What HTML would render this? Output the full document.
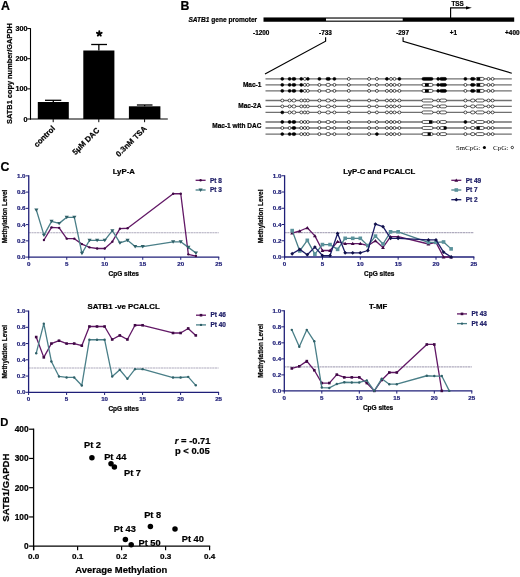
<!DOCTYPE html>
<html><head><meta charset="utf-8"><title>Figure</title>
<style>html,body{margin:0;padding:0;background:#fff;}svg{display:block;will-change:transform;} text{stroke-width:0.22px;}</style>
</head><body>
<svg width="520" height="577" viewBox="0 0 520 577">
<rect width="520" height="577" fill="#fff"/>
<text x="0.90" y="9.60" font-size="12.3" font-weight="bold" text-anchor="start" fill="#000" stroke="#000" font-family='"Liberation Sans", sans-serif' >A</text>
<line x1="30.50" y1="28.20" x2="30.50" y2="119.60" stroke="#000" stroke-width="1.1" />
<line x1="30.00" y1="119.00" x2="167.80" y2="119.00" stroke="#000" stroke-width="1.1" />
<line x1="27.30" y1="119.00" x2="30.50" y2="119.00" stroke="#000" stroke-width="1.0" />
<text x="27.50" y="121.50" font-size="7.2" font-weight="bold" text-anchor="end" fill="#000" stroke="#000" font-family='"Liberation Sans", sans-serif' >0</text>
<line x1="27.30" y1="88.85" x2="30.50" y2="88.85" stroke="#000" stroke-width="1.0" />
<text x="27.50" y="91.35" font-size="7.2" font-weight="bold" text-anchor="end" fill="#000" stroke="#000" font-family='"Liberation Sans", sans-serif' >100</text>
<line x1="27.30" y1="58.70" x2="30.50" y2="58.70" stroke="#000" stroke-width="1.0" />
<text x="27.50" y="61.20" font-size="7.2" font-weight="bold" text-anchor="end" fill="#000" stroke="#000" font-family='"Liberation Sans", sans-serif' >200</text>
<line x1="27.30" y1="28.55" x2="30.50" y2="28.55" stroke="#000" stroke-width="1.0" />
<text x="27.50" y="31.05" font-size="7.2" font-weight="bold" text-anchor="end" fill="#000" stroke="#000" font-family='"Liberation Sans", sans-serif' >300</text>
<rect x="37.80" y="102.00" width="31.00" height="17.00" fill="#000" />
<line x1="53.30" y1="102.00" x2="53.30" y2="100.30" stroke="#000" stroke-width="1.3" />
<line x1="45.00" y1="100.30" x2="61.30" y2="100.30" stroke="#000" stroke-width="1.3" />
<rect x="83.30" y="50.50" width="31.10" height="68.50" fill="#000" />
<line x1="98.85" y1="50.50" x2="98.85" y2="44.50" stroke="#000" stroke-width="1.3" />
<line x1="91.20" y1="44.50" x2="107.00" y2="44.50" stroke="#000" stroke-width="1.3" />
<rect x="128.90" y="106.30" width="31.50" height="12.70" fill="#000" />
<line x1="144.65" y1="106.30" x2="144.65" y2="105.00" stroke="#000" stroke-width="1.3" />
<line x1="136.90" y1="105.00" x2="152.50" y2="105.00" stroke="#000" stroke-width="1.3" />
<line x1="99.30" y1="33.60" x2="99.30" y2="31.10" stroke="#000" stroke-width="1.9" stroke-linecap="round"/>
<line x1="99.30" y1="33.60" x2="101.68" y2="32.83" stroke="#000" stroke-width="1.9" stroke-linecap="round"/>
<line x1="99.30" y1="33.60" x2="100.77" y2="35.62" stroke="#000" stroke-width="1.9" stroke-linecap="round"/>
<line x1="99.30" y1="33.60" x2="97.83" y2="35.62" stroke="#000" stroke-width="1.9" stroke-linecap="round"/>
<line x1="99.30" y1="33.60" x2="96.92" y2="32.83" stroke="#000" stroke-width="1.9" stroke-linecap="round"/>
<line x1="53.20" y1="119.00" x2="53.20" y2="122.20" stroke="#000" stroke-width="1.0" />
<text transform="translate(55.60,129.00) rotate(-45)" font-size="7.8" font-weight="bold" stroke="#000" text-anchor="end" font-family='"Liberation Sans", sans-serif'>control</text>
<line x1="98.80" y1="119.00" x2="98.80" y2="122.20" stroke="#000" stroke-width="1.0" />
<text transform="translate(99.90,130.70) rotate(-45)" font-size="7.8" font-weight="bold" stroke="#000" text-anchor="end" font-family='"Liberation Sans", sans-serif'>5μM DAC</text>
<line x1="144.60" y1="119.00" x2="144.60" y2="122.20" stroke="#000" stroke-width="1.0" />
<text transform="translate(147.20,129.00) rotate(-45)" font-size="7.8" font-weight="bold" stroke="#000" text-anchor="end" font-family='"Liberation Sans", sans-serif'>0.3nM TSA</text>
<text transform="translate(12.2,73.5) rotate(-90)" font-size="7.4" font-weight="bold" stroke="#000" text-anchor="middle" font-family='"Liberation Sans", sans-serif'>SATB1 copy number/GAPDH</text>
<text x="180.40" y="9.60" font-size="12.3" font-weight="bold" text-anchor="start" fill="#000" stroke="#000" font-family='"Liberation Sans", sans-serif' >B</text>
<text x="188.5" y="21.9" font-size="6.55" font-weight="bold" stroke="#000" font-family='"Liberation Sans", sans-serif'><tspan font-style="italic">SATB1</tspan> gene promoter</text>
<rect x="263.50" y="17.45" width="250.70" height="4.30" fill="#000" />
<rect x="326.00" y="18.60" width="76.70" height="2.00" fill="#fff" />
<polyline points="450.6,18 450.6,7.8 467,7.8" fill="none" stroke="#000" stroke-width="1.15"/>
<polygon points="466,6.2 471.8,7.8 466,9.4" fill="#000"/>
<text x="457.60" y="5.90" font-size="6.3" font-weight="bold" text-anchor="middle" fill="#000" stroke="#000" font-family='"Liberation Sans", sans-serif' >TSS</text>
<text x="261.20" y="35.10" font-size="6.4" font-weight="bold" text-anchor="middle" fill="#000" stroke="#000" font-family='"Liberation Sans", sans-serif' >-1200</text>
<text x="325.50" y="35.10" font-size="6.4" font-weight="bold" text-anchor="middle" fill="#000" stroke="#000" font-family='"Liberation Sans", sans-serif' >-733</text>
<text x="402.60" y="35.10" font-size="6.4" font-weight="bold" text-anchor="middle" fill="#000" stroke="#000" font-family='"Liberation Sans", sans-serif' >-297</text>
<text x="453.40" y="35.10" font-size="6.4" font-weight="bold" text-anchor="middle" fill="#000" stroke="#000" font-family='"Liberation Sans", sans-serif' >+1</text>
<text x="512.30" y="35.10" font-size="6.4" font-weight="bold" text-anchor="middle" fill="#000" stroke="#000" font-family='"Liberation Sans", sans-serif' >+400</text>
<polyline points="325.6,37.3 325.6,41.2 265,74" fill="none" stroke="#000" stroke-width="1.15"/>
<polyline points="403.1,37.3 403.1,41.2 511.8,73.2" fill="none" stroke="#000" stroke-width="1.15"/>
<line x1="265.50" y1="78.90" x2="511.80" y2="78.90" stroke="#707070" stroke-width="1.3" />
<line x1="265.50" y1="84.90" x2="511.80" y2="84.90" stroke="#707070" stroke-width="1.3" />
<line x1="265.50" y1="90.90" x2="511.80" y2="90.90" stroke="#707070" stroke-width="1.3" />
<line x1="265.50" y1="100.50" x2="511.80" y2="100.50" stroke="#707070" stroke-width="1.3" />
<line x1="265.50" y1="106.40" x2="511.80" y2="106.40" stroke="#707070" stroke-width="1.3" />
<line x1="265.50" y1="112.40" x2="511.80" y2="112.40" stroke="#707070" stroke-width="1.3" />
<line x1="265.50" y1="122.00" x2="511.80" y2="122.00" stroke="#707070" stroke-width="1.3" />
<line x1="265.50" y1="128.00" x2="511.80" y2="128.00" stroke="#707070" stroke-width="1.3" />
<line x1="265.50" y1="134.10" x2="511.80" y2="134.10" stroke="#707070" stroke-width="1.3" />
<circle cx="282.30" cy="78.90" r="1.45" fill="#000" stroke="#000" stroke-width="0.65"/>
<circle cx="289.60" cy="78.90" r="1.45" fill="#000" stroke="#000" stroke-width="0.65"/>
<rect x="292.00" y="77.45" width="3.80" height="2.90" rx="1.45" ry="1.45" fill="#000" stroke="#000" stroke-width="0.65"/>
<circle cx="301.30" cy="78.90" r="1.45" fill="#000" stroke="#000" stroke-width="0.65"/>
<circle cx="304.80" cy="78.90" r="1.45" fill="#fff" stroke="#000" stroke-width="0.65"/>
<circle cx="307.80" cy="78.90" r="1.45" fill="#000" stroke="#000" stroke-width="0.65"/>
<circle cx="319.40" cy="78.90" r="1.45" fill="#000" stroke="#000" stroke-width="0.65"/>
<rect x="326.00" y="77.45" width="4.30" height="2.90" rx="1.45" ry="1.45" fill="#000" stroke="#000" stroke-width="0.65"/>
<circle cx="334.40" cy="78.90" r="1.45" fill="#000" stroke="#000" stroke-width="0.65"/>
<circle cx="348.80" cy="78.90" r="1.45" fill="#fff" stroke="#000" stroke-width="0.65"/>
<circle cx="369.10" cy="78.90" r="1.45" fill="#fff" stroke="#000" stroke-width="0.65"/>
<circle cx="376.90" cy="78.90" r="1.45" fill="#fff" stroke="#000" stroke-width="0.65"/>
<circle cx="386.90" cy="78.90" r="1.45" fill="#000" stroke="#000" stroke-width="0.65"/>
<circle cx="391.00" cy="78.90" r="1.45" fill="#fff" stroke="#000" stroke-width="0.65"/>
<circle cx="394.50" cy="78.90" r="1.45" fill="#fff" stroke="#000" stroke-width="0.65"/>
<circle cx="399.40" cy="78.90" r="1.45" fill="#000" stroke="#000" stroke-width="0.65"/>
<rect x="422.00" y="77.45" width="11.00" height="2.90" rx="1.45" ry="1.45" fill="#000" stroke="#000" stroke-width="0.65"/>
<circle cx="438.20" cy="78.90" r="1.45" fill="#000" stroke="#000" stroke-width="0.65"/>
<rect x="439.80" y="77.45" width="6.70" height="2.90" rx="1.45" ry="1.45" fill="#000" stroke="#000" stroke-width="0.65"/>
<circle cx="465.40" cy="78.90" r="1.45" fill="#000" stroke="#000" stroke-width="0.65"/>
<rect x="470.60" y="77.45" width="4.30" height="2.90" rx="1.45" ry="1.45" fill="#000" stroke="#000" stroke-width="0.65"/>
<rect x="475.90" y="77.45" width="8.30" height="2.90" rx="1.45" ry="1.45" fill="#fff" stroke="#000" stroke-width="0.65"/>
<rect x="476.80" y="77.45" width="3.40" height="2.90" fill="#000" />
<circle cx="488.50" cy="78.90" r="1.45" fill="#fff" stroke="#000" stroke-width="0.65"/>
<circle cx="492.60" cy="78.90" r="1.45" fill="#fff" stroke="#000" stroke-width="0.65"/>
<circle cx="282.30" cy="84.90" r="1.45" fill="#000" stroke="#000" stroke-width="0.65"/>
<circle cx="289.60" cy="84.90" r="1.45" fill="#000" stroke="#000" stroke-width="0.65"/>
<rect x="292.00" y="83.45" width="3.80" height="2.90" rx="1.45" ry="1.45" fill="#000" stroke="#000" stroke-width="0.65"/>
<circle cx="301.30" cy="84.90" r="1.45" fill="#000" stroke="#000" stroke-width="0.65"/>
<circle cx="304.80" cy="84.90" r="1.45" fill="#fff" stroke="#000" stroke-width="0.65"/>
<circle cx="307.80" cy="84.90" r="1.45" fill="#fff" stroke="#000" stroke-width="0.65"/>
<circle cx="319.40" cy="84.90" r="1.45" fill="#fff" stroke="#000" stroke-width="0.65"/>
<rect x="326.00" y="83.45" width="4.30" height="2.90" rx="1.45" ry="1.45" fill="#fff" stroke="#000" stroke-width="0.65"/>
<circle cx="334.40" cy="84.90" r="1.45" fill="#fff" stroke="#000" stroke-width="0.65"/>
<circle cx="348.80" cy="84.90" r="1.45" fill="#fff" stroke="#000" stroke-width="0.65"/>
<circle cx="369.10" cy="84.90" r="1.45" fill="#fff" stroke="#000" stroke-width="0.65"/>
<circle cx="376.90" cy="84.90" r="1.45" fill="#fff" stroke="#000" stroke-width="0.65"/>
<circle cx="386.90" cy="84.90" r="1.45" fill="#fff" stroke="#000" stroke-width="0.65"/>
<circle cx="391.00" cy="84.90" r="1.45" fill="#fff" stroke="#000" stroke-width="0.65"/>
<circle cx="394.50" cy="84.90" r="1.45" fill="#fff" stroke="#000" stroke-width="0.65"/>
<circle cx="399.40" cy="84.90" r="1.45" fill="#fff" stroke="#000" stroke-width="0.65"/>
<rect x="422.00" y="83.45" width="11.00" height="2.90" rx="1.45" ry="1.45" fill="#fff" stroke="#000" stroke-width="0.65"/>
<rect x="425.00" y="83.45" width="3.80" height="2.90" fill="#000" />
<circle cx="438.20" cy="84.90" r="1.45" fill="#000" stroke="#000" stroke-width="0.65"/>
<rect x="439.80" y="83.45" width="6.70" height="2.90" rx="1.45" ry="1.45" fill="#000" stroke="#000" stroke-width="0.65"/>
<circle cx="465.40" cy="84.90" r="1.45" fill="#fff" stroke="#000" stroke-width="0.65"/>
<rect x="470.60" y="83.45" width="4.30" height="2.90" rx="1.45" ry="1.45" fill="#000" stroke="#000" stroke-width="0.65"/>
<rect x="475.90" y="83.45" width="8.30" height="2.90" rx="1.45" ry="1.45" fill="#fff" stroke="#000" stroke-width="0.65"/>
<rect x="476.80" y="83.45" width="3.40" height="2.90" fill="#000" />
<circle cx="488.50" cy="84.90" r="1.45" fill="#fff" stroke="#000" stroke-width="0.65"/>
<circle cx="492.60" cy="84.90" r="1.45" fill="#fff" stroke="#000" stroke-width="0.65"/>
<circle cx="282.30" cy="90.90" r="1.45" fill="#000" stroke="#000" stroke-width="0.65"/>
<circle cx="289.60" cy="90.90" r="1.45" fill="#000" stroke="#000" stroke-width="0.65"/>
<rect x="292.00" y="89.45" width="3.80" height="2.90" rx="1.45" ry="1.45" fill="#000" stroke="#000" stroke-width="0.65"/>
<circle cx="301.30" cy="90.90" r="1.45" fill="#000" stroke="#000" stroke-width="0.65"/>
<circle cx="304.80" cy="90.90" r="1.45" fill="#fff" stroke="#000" stroke-width="0.65"/>
<circle cx="307.80" cy="90.90" r="1.45" fill="#fff" stroke="#000" stroke-width="0.65"/>
<circle cx="319.40" cy="90.90" r="1.45" fill="#fff" stroke="#000" stroke-width="0.65"/>
<rect x="326.00" y="89.45" width="4.30" height="2.90" rx="1.45" ry="1.45" fill="#fff" stroke="#000" stroke-width="0.65"/>
<circle cx="334.40" cy="90.90" r="1.45" fill="#fff" stroke="#000" stroke-width="0.65"/>
<circle cx="348.80" cy="90.90" r="1.45" fill="#fff" stroke="#000" stroke-width="0.65"/>
<circle cx="369.10" cy="90.90" r="1.45" fill="#fff" stroke="#000" stroke-width="0.65"/>
<circle cx="376.90" cy="90.90" r="1.45" fill="#fff" stroke="#000" stroke-width="0.65"/>
<circle cx="386.90" cy="90.90" r="1.45" fill="#fff" stroke="#000" stroke-width="0.65"/>
<circle cx="391.00" cy="90.90" r="1.45" fill="#fff" stroke="#000" stroke-width="0.65"/>
<circle cx="394.50" cy="90.90" r="1.45" fill="#fff" stroke="#000" stroke-width="0.65"/>
<circle cx="399.40" cy="90.90" r="1.45" fill="#fff" stroke="#000" stroke-width="0.65"/>
<rect x="422.00" y="89.45" width="11.00" height="2.90" rx="1.45" ry="1.45" fill="#fff" stroke="#000" stroke-width="0.65"/>
<rect x="425.00" y="89.45" width="3.80" height="2.90" fill="#000" />
<circle cx="438.20" cy="90.90" r="1.45" fill="#000" stroke="#000" stroke-width="0.65"/>
<rect x="439.80" y="89.45" width="6.70" height="2.90" rx="1.45" ry="1.45" fill="#000" stroke="#000" stroke-width="0.65"/>
<circle cx="465.40" cy="90.90" r="1.45" fill="#fff" stroke="#000" stroke-width="0.65"/>
<rect x="470.60" y="89.45" width="4.30" height="2.90" rx="1.45" ry="1.45" fill="#000" stroke="#000" stroke-width="0.65"/>
<rect x="475.90" y="89.45" width="8.30" height="2.90" rx="1.45" ry="1.45" fill="#fff" stroke="#000" stroke-width="0.65"/>
<rect x="476.80" y="89.45" width="3.40" height="2.90" fill="#000" />
<circle cx="488.50" cy="90.90" r="1.45" fill="#fff" stroke="#000" stroke-width="0.65"/>
<circle cx="492.60" cy="90.90" r="1.45" fill="#fff" stroke="#000" stroke-width="0.65"/>
<circle cx="282.30" cy="100.50" r="1.45" fill="#fff" stroke="#000" stroke-width="0.65"/>
<circle cx="289.60" cy="100.50" r="1.45" fill="#fff" stroke="#000" stroke-width="0.65"/>
<rect x="292.00" y="99.05" width="3.80" height="2.90" rx="1.45" ry="1.45" fill="#fff" stroke="#000" stroke-width="0.65"/>
<circle cx="301.30" cy="100.50" r="1.45" fill="#fff" stroke="#000" stroke-width="0.65"/>
<circle cx="304.80" cy="100.50" r="1.45" fill="#fff" stroke="#000" stroke-width="0.65"/>
<circle cx="307.80" cy="100.50" r="1.45" fill="#fff" stroke="#000" stroke-width="0.65"/>
<circle cx="319.40" cy="100.50" r="1.45" fill="#fff" stroke="#000" stroke-width="0.65"/>
<rect x="326.00" y="99.05" width="4.30" height="2.90" rx="1.45" ry="1.45" fill="#fff" stroke="#000" stroke-width="0.65"/>
<circle cx="334.40" cy="100.50" r="1.45" fill="#fff" stroke="#000" stroke-width="0.65"/>
<circle cx="348.80" cy="100.50" r="1.45" fill="#fff" stroke="#000" stroke-width="0.65"/>
<circle cx="369.10" cy="100.50" r="1.45" fill="#fff" stroke="#000" stroke-width="0.65"/>
<circle cx="376.90" cy="100.50" r="1.45" fill="#fff" stroke="#000" stroke-width="0.65"/>
<circle cx="386.90" cy="100.50" r="1.45" fill="#fff" stroke="#000" stroke-width="0.65"/>
<circle cx="391.00" cy="100.50" r="1.45" fill="#fff" stroke="#000" stroke-width="0.65"/>
<circle cx="394.50" cy="100.50" r="1.45" fill="#fff" stroke="#000" stroke-width="0.65"/>
<circle cx="399.40" cy="100.50" r="1.45" fill="#fff" stroke="#000" stroke-width="0.65"/>
<rect x="422.00" y="99.05" width="11.00" height="2.90" rx="1.45" ry="1.45" fill="#fff" stroke="#000" stroke-width="0.65"/>
<circle cx="438.20" cy="100.50" r="1.45" fill="#fff" stroke="#000" stroke-width="0.65"/>
<rect x="439.80" y="99.05" width="6.70" height="2.90" rx="1.45" ry="1.45" fill="#fff" stroke="#000" stroke-width="0.65"/>
<circle cx="465.40" cy="100.50" r="1.45" fill="#fff" stroke="#000" stroke-width="0.65"/>
<rect x="470.60" y="99.05" width="4.30" height="2.90" rx="1.45" ry="1.45" fill="#fff" stroke="#000" stroke-width="0.65"/>
<rect x="475.90" y="99.05" width="8.30" height="2.90" rx="1.45" ry="1.45" fill="#fff" stroke="#000" stroke-width="0.65"/>
<circle cx="488.50" cy="100.50" r="1.45" fill="#fff" stroke="#000" stroke-width="0.65"/>
<circle cx="492.60" cy="100.50" r="1.45" fill="#fff" stroke="#000" stroke-width="0.65"/>
<circle cx="282.30" cy="106.40" r="1.45" fill="#fff" stroke="#000" stroke-width="0.65"/>
<circle cx="289.60" cy="106.40" r="1.45" fill="#fff" stroke="#000" stroke-width="0.65"/>
<rect x="292.00" y="104.95" width="3.80" height="2.90" rx="1.45" ry="1.45" fill="#fff" stroke="#000" stroke-width="0.65"/>
<circle cx="301.30" cy="106.40" r="1.45" fill="#fff" stroke="#000" stroke-width="0.65"/>
<circle cx="304.80" cy="106.40" r="1.45" fill="#fff" stroke="#000" stroke-width="0.65"/>
<circle cx="307.80" cy="106.40" r="1.45" fill="#fff" stroke="#000" stroke-width="0.65"/>
<circle cx="319.40" cy="106.40" r="1.45" fill="#fff" stroke="#000" stroke-width="0.65"/>
<rect x="326.00" y="104.95" width="4.30" height="2.90" rx="1.45" ry="1.45" fill="#fff" stroke="#000" stroke-width="0.65"/>
<circle cx="334.40" cy="106.40" r="1.45" fill="#fff" stroke="#000" stroke-width="0.65"/>
<circle cx="348.80" cy="106.40" r="1.45" fill="#fff" stroke="#000" stroke-width="0.65"/>
<circle cx="369.10" cy="106.40" r="1.45" fill="#fff" stroke="#000" stroke-width="0.65"/>
<circle cx="376.90" cy="106.40" r="1.45" fill="#fff" stroke="#000" stroke-width="0.65"/>
<circle cx="386.90" cy="106.40" r="1.45" fill="#fff" stroke="#000" stroke-width="0.65"/>
<circle cx="391.00" cy="106.40" r="1.45" fill="#fff" stroke="#000" stroke-width="0.65"/>
<circle cx="394.50" cy="106.40" r="1.45" fill="#fff" stroke="#000" stroke-width="0.65"/>
<circle cx="399.40" cy="106.40" r="1.45" fill="#fff" stroke="#000" stroke-width="0.65"/>
<rect x="422.00" y="104.95" width="11.00" height="2.90" rx="1.45" ry="1.45" fill="#fff" stroke="#000" stroke-width="0.65"/>
<circle cx="438.20" cy="106.40" r="1.45" fill="#fff" stroke="#000" stroke-width="0.65"/>
<rect x="439.80" y="104.95" width="6.70" height="2.90" rx="1.45" ry="1.45" fill="#fff" stroke="#000" stroke-width="0.65"/>
<circle cx="465.40" cy="106.40" r="1.45" fill="#fff" stroke="#000" stroke-width="0.65"/>
<rect x="470.60" y="104.95" width="4.30" height="2.90" rx="1.45" ry="1.45" fill="#fff" stroke="#000" stroke-width="0.65"/>
<rect x="475.90" y="104.95" width="8.30" height="2.90" rx="1.45" ry="1.45" fill="#fff" stroke="#000" stroke-width="0.65"/>
<circle cx="488.50" cy="106.40" r="1.45" fill="#fff" stroke="#000" stroke-width="0.65"/>
<circle cx="492.60" cy="106.40" r="1.45" fill="#fff" stroke="#000" stroke-width="0.65"/>
<circle cx="282.30" cy="112.40" r="1.45" fill="#000" stroke="#000" stroke-width="0.65"/>
<circle cx="289.60" cy="112.40" r="1.45" fill="#fff" stroke="#000" stroke-width="0.65"/>
<rect x="292.00" y="110.95" width="3.80" height="2.90" rx="1.45" ry="1.45" fill="#fff" stroke="#000" stroke-width="0.65"/>
<circle cx="301.30" cy="112.40" r="1.45" fill="#fff" stroke="#000" stroke-width="0.65"/>
<circle cx="304.80" cy="112.40" r="1.45" fill="#fff" stroke="#000" stroke-width="0.65"/>
<circle cx="307.80" cy="112.40" r="1.45" fill="#fff" stroke="#000" stroke-width="0.65"/>
<circle cx="319.40" cy="112.40" r="1.45" fill="#fff" stroke="#000" stroke-width="0.65"/>
<rect x="326.00" y="110.95" width="4.30" height="2.90" rx="1.45" ry="1.45" fill="#fff" stroke="#000" stroke-width="0.65"/>
<circle cx="334.40" cy="112.40" r="1.45" fill="#fff" stroke="#000" stroke-width="0.65"/>
<circle cx="348.80" cy="112.40" r="1.45" fill="#fff" stroke="#000" stroke-width="0.65"/>
<circle cx="369.10" cy="112.40" r="1.45" fill="#fff" stroke="#000" stroke-width="0.65"/>
<circle cx="376.90" cy="112.40" r="1.45" fill="#fff" stroke="#000" stroke-width="0.65"/>
<circle cx="386.90" cy="112.40" r="1.45" fill="#fff" stroke="#000" stroke-width="0.65"/>
<circle cx="391.00" cy="112.40" r="1.45" fill="#fff" stroke="#000" stroke-width="0.65"/>
<circle cx="394.50" cy="112.40" r="1.45" fill="#fff" stroke="#000" stroke-width="0.65"/>
<circle cx="399.40" cy="112.40" r="1.45" fill="#fff" stroke="#000" stroke-width="0.65"/>
<rect x="422.00" y="110.95" width="11.00" height="2.90" rx="1.45" ry="1.45" fill="#fff" stroke="#000" stroke-width="0.65"/>
<circle cx="438.20" cy="112.40" r="1.45" fill="#fff" stroke="#000" stroke-width="0.65"/>
<rect x="439.80" y="110.95" width="6.70" height="2.90" rx="1.45" ry="1.45" fill="#fff" stroke="#000" stroke-width="0.65"/>
<circle cx="465.40" cy="112.40" r="1.45" fill="#fff" stroke="#000" stroke-width="0.65"/>
<rect x="470.60" y="110.95" width="4.30" height="2.90" rx="1.45" ry="1.45" fill="#fff" stroke="#000" stroke-width="0.65"/>
<rect x="475.90" y="110.95" width="8.30" height="2.90" rx="1.45" ry="1.45" fill="#fff" stroke="#000" stroke-width="0.65"/>
<circle cx="488.50" cy="112.40" r="1.45" fill="#fff" stroke="#000" stroke-width="0.65"/>
<circle cx="492.60" cy="112.40" r="1.45" fill="#fff" stroke="#000" stroke-width="0.65"/>
<circle cx="282.30" cy="122.00" r="1.45" fill="#000" stroke="#000" stroke-width="0.65"/>
<circle cx="289.60" cy="122.00" r="1.45" fill="#000" stroke="#000" stroke-width="0.65"/>
<rect x="292.00" y="120.55" width="3.80" height="2.90" rx="1.45" ry="1.45" fill="#000" stroke="#000" stroke-width="0.65"/>
<circle cx="301.30" cy="122.00" r="1.45" fill="#fff" stroke="#000" stroke-width="0.65"/>
<circle cx="304.80" cy="122.00" r="1.45" fill="#fff" stroke="#000" stroke-width="0.65"/>
<circle cx="307.80" cy="122.00" r="1.45" fill="#fff" stroke="#000" stroke-width="0.65"/>
<circle cx="319.40" cy="122.00" r="1.45" fill="#fff" stroke="#000" stroke-width="0.65"/>
<rect x="326.00" y="120.55" width="4.30" height="2.90" rx="1.45" ry="1.45" fill="#fff" stroke="#000" stroke-width="0.65"/>
<circle cx="334.40" cy="122.00" r="1.45" fill="#fff" stroke="#000" stroke-width="0.65"/>
<circle cx="348.80" cy="122.00" r="1.45" fill="#fff" stroke="#000" stroke-width="0.65"/>
<circle cx="369.10" cy="122.00" r="1.45" fill="#fff" stroke="#000" stroke-width="0.65"/>
<circle cx="376.90" cy="122.00" r="1.45" fill="#fff" stroke="#000" stroke-width="0.65"/>
<circle cx="386.90" cy="122.00" r="1.45" fill="#fff" stroke="#000" stroke-width="0.65"/>
<circle cx="391.00" cy="122.00" r="1.45" fill="#fff" stroke="#000" stroke-width="0.65"/>
<circle cx="394.50" cy="122.00" r="1.45" fill="#fff" stroke="#000" stroke-width="0.65"/>
<circle cx="399.40" cy="122.00" r="1.45" fill="#fff" stroke="#000" stroke-width="0.65"/>
<rect x="422.00" y="120.55" width="11.00" height="2.90" rx="1.45" ry="1.45" fill="#fff" stroke="#000" stroke-width="0.65"/>
<rect x="429.00" y="120.55" width="3.20" height="2.90" fill="#000" />
<circle cx="438.20" cy="122.00" r="1.45" fill="#fff" stroke="#000" stroke-width="0.65"/>
<rect x="439.80" y="120.55" width="6.70" height="2.90" rx="1.45" ry="1.45" fill="#fff" stroke="#000" stroke-width="0.65"/>
<circle cx="465.40" cy="122.00" r="1.45" fill="#000" stroke="#000" stroke-width="0.65"/>
<rect x="470.60" y="120.55" width="4.30" height="2.90" rx="1.45" ry="1.45" fill="#fff" stroke="#000" stroke-width="0.65"/>
<rect x="475.90" y="120.55" width="8.30" height="2.90" rx="1.45" ry="1.45" fill="#fff" stroke="#000" stroke-width="0.65"/>
<circle cx="488.50" cy="122.00" r="1.45" fill="#fff" stroke="#000" stroke-width="0.65"/>
<circle cx="492.60" cy="122.00" r="1.45" fill="#fff" stroke="#000" stroke-width="0.65"/>
<circle cx="282.30" cy="128.00" r="1.45" fill="#fff" stroke="#000" stroke-width="0.65"/>
<circle cx="289.60" cy="128.00" r="1.45" fill="#fff" stroke="#000" stroke-width="0.65"/>
<rect x="292.00" y="126.55" width="3.80" height="2.90" rx="1.45" ry="1.45" fill="#000" stroke="#000" stroke-width="0.65"/>
<circle cx="301.30" cy="128.00" r="1.45" fill="#fff" stroke="#000" stroke-width="0.65"/>
<circle cx="304.80" cy="128.00" r="1.45" fill="#fff" stroke="#000" stroke-width="0.65"/>
<circle cx="307.80" cy="128.00" r="1.45" fill="#fff" stroke="#000" stroke-width="0.65"/>
<circle cx="319.40" cy="128.00" r="1.45" fill="#fff" stroke="#000" stroke-width="0.65"/>
<rect x="326.00" y="126.55" width="4.30" height="2.90" rx="1.45" ry="1.45" fill="#fff" stroke="#000" stroke-width="0.65"/>
<circle cx="334.40" cy="128.00" r="1.45" fill="#fff" stroke="#000" stroke-width="0.65"/>
<circle cx="348.80" cy="128.00" r="1.45" fill="#fff" stroke="#000" stroke-width="0.65"/>
<circle cx="369.10" cy="128.00" r="1.45" fill="#fff" stroke="#000" stroke-width="0.65"/>
<circle cx="376.90" cy="128.00" r="1.45" fill="#fff" stroke="#000" stroke-width="0.65"/>
<circle cx="386.90" cy="128.00" r="1.45" fill="#fff" stroke="#000" stroke-width="0.65"/>
<circle cx="391.00" cy="128.00" r="1.45" fill="#fff" stroke="#000" stroke-width="0.65"/>
<circle cx="394.50" cy="128.00" r="1.45" fill="#fff" stroke="#000" stroke-width="0.65"/>
<circle cx="399.40" cy="128.00" r="1.45" fill="#fff" stroke="#000" stroke-width="0.65"/>
<rect x="422.00" y="126.55" width="11.00" height="2.90" rx="1.45" ry="1.45" fill="#fff" stroke="#000" stroke-width="0.65"/>
<circle cx="438.20" cy="128.00" r="1.45" fill="#fff" stroke="#000" stroke-width="0.65"/>
<rect x="439.80" y="126.55" width="6.70" height="2.90" rx="1.45" ry="1.45" fill="#fff" stroke="#000" stroke-width="0.65"/>
<rect x="443.60" y="126.55" width="2.90" height="2.90" fill="#000" />
<circle cx="465.40" cy="128.00" r="1.45" fill="#fff" stroke="#000" stroke-width="0.65"/>
<rect x="470.60" y="126.55" width="4.30" height="2.90" rx="1.45" ry="1.45" fill="#fff" stroke="#000" stroke-width="0.65"/>
<rect x="475.90" y="126.55" width="8.30" height="2.90" rx="1.45" ry="1.45" fill="#fff" stroke="#000" stroke-width="0.65"/>
<rect x="476.60" y="126.55" width="3.20" height="2.90" fill="#000" />
<circle cx="488.50" cy="128.00" r="1.45" fill="#fff" stroke="#000" stroke-width="0.65"/>
<circle cx="492.60" cy="128.00" r="1.45" fill="#fff" stroke="#000" stroke-width="0.65"/>
<circle cx="282.30" cy="134.10" r="1.45" fill="#000" stroke="#000" stroke-width="0.65"/>
<circle cx="289.60" cy="134.10" r="1.45" fill="#000" stroke="#000" stroke-width="0.65"/>
<rect x="292.00" y="132.65" width="3.80" height="2.90" rx="1.45" ry="1.45" fill="#000" stroke="#000" stroke-width="0.65"/>
<circle cx="301.30" cy="134.10" r="1.45" fill="#fff" stroke="#000" stroke-width="0.65"/>
<circle cx="304.80" cy="134.10" r="1.45" fill="#fff" stroke="#000" stroke-width="0.65"/>
<circle cx="307.80" cy="134.10" r="1.45" fill="#fff" stroke="#000" stroke-width="0.65"/>
<circle cx="319.40" cy="134.10" r="1.45" fill="#fff" stroke="#000" stroke-width="0.65"/>
<rect x="326.00" y="132.65" width="4.30" height="2.90" rx="1.45" ry="1.45" fill="#fff" stroke="#000" stroke-width="0.65"/>
<circle cx="334.40" cy="134.10" r="1.45" fill="#fff" stroke="#000" stroke-width="0.65"/>
<circle cx="348.80" cy="134.10" r="1.45" fill="#fff" stroke="#000" stroke-width="0.65"/>
<circle cx="369.10" cy="134.10" r="1.45" fill="#fff" stroke="#000" stroke-width="0.65"/>
<circle cx="376.90" cy="134.10" r="1.45" fill="#000" stroke="#000" stroke-width="0.65"/>
<circle cx="386.90" cy="134.10" r="1.45" fill="#fff" stroke="#000" stroke-width="0.65"/>
<circle cx="391.00" cy="134.10" r="1.45" fill="#fff" stroke="#000" stroke-width="0.65"/>
<circle cx="394.50" cy="134.10" r="1.45" fill="#fff" stroke="#000" stroke-width="0.65"/>
<circle cx="399.40" cy="134.10" r="1.45" fill="#fff" stroke="#000" stroke-width="0.65"/>
<rect x="422.00" y="132.65" width="11.00" height="2.90" rx="1.45" ry="1.45" fill="#fff" stroke="#000" stroke-width="0.65"/>
<rect x="427.60" y="132.65" width="3.20" height="2.90" fill="#000" />
<circle cx="438.20" cy="134.10" r="1.45" fill="#fff" stroke="#000" stroke-width="0.65"/>
<rect x="439.80" y="132.65" width="6.70" height="2.90" rx="1.45" ry="1.45" fill="#fff" stroke="#000" stroke-width="0.65"/>
<circle cx="465.40" cy="134.10" r="1.45" fill="#fff" stroke="#000" stroke-width="0.65"/>
<rect x="470.60" y="132.65" width="4.30" height="2.90" rx="1.45" ry="1.45" fill="#fff" stroke="#000" stroke-width="0.65"/>
<rect x="475.90" y="132.65" width="8.30" height="2.90" rx="1.45" ry="1.45" fill="#fff" stroke="#000" stroke-width="0.65"/>
<circle cx="488.50" cy="134.10" r="1.45" fill="#fff" stroke="#000" stroke-width="0.65"/>
<circle cx="492.60" cy="134.10" r="1.45" fill="#fff" stroke="#000" stroke-width="0.65"/>
<text x="261.40" y="86.50" font-size="6.5" font-weight="bold" text-anchor="end" fill="#000" stroke="#000" font-family='"Liberation Sans", sans-serif' >Mac-1</text>
<text x="261.40" y="107.60" font-size="6.5" font-weight="bold" text-anchor="end" fill="#000" stroke="#000" font-family='"Liberation Sans", sans-serif' >Mac-2A</text>
<text x="261.40" y="128.40" font-size="6.5" font-weight="bold" text-anchor="end" fill="#000" stroke="#000" font-family='"Liberation Sans", sans-serif' >Mac-1 with DAC</text>
<text x="456.00" y="149.80" font-size="7.05" font-weight="normal" text-anchor="start" fill="#000" stroke="none" font-family='"Liberation Serif", serif' >5mCpG:</text>
<circle cx="484.4" cy="147.5" r="1.55" fill="#000"/>
<text x="493.00" y="149.80" font-size="7.05" font-weight="normal" text-anchor="start" fill="#000" stroke="none" font-family='"Liberation Serif", serif' >CpG:</text>
<circle cx="512.3" cy="147.5" r="1.2" fill="#fff" stroke="#000" stroke-width="0.75"/>
<text x="0.60" y="170.70" font-size="12.3" font-weight="bold" text-anchor="start" fill="#000" stroke="#000" font-family='"Liberation Sans", sans-serif' >C</text>
<line x1="28.75" y1="232.73" x2="218.75" y2="232.73" stroke="#aeaabd" stroke-width="1.1" stroke-dasharray="2.2,0.5"/>
<line x1="28.75" y1="175.35" x2="28.75" y2="257.70" stroke="#1f1f78" stroke-width="1.3" />
<line x1="28.15" y1="257.10" x2="219.25" y2="257.10" stroke="#1f1f78" stroke-width="1.3" />
<line x1="25.75" y1="257.10" x2="28.75" y2="257.10" stroke="#1f1f78" stroke-width="1.0" />
<text x="25.55" y="259.10" font-size="6.2" font-weight="bold" text-anchor="end" fill="#1f1f78" stroke="#1f1f78" font-family='"Liberation Sans", sans-serif' >0.0</text>
<line x1="25.75" y1="240.85" x2="28.75" y2="240.85" stroke="#1f1f78" stroke-width="1.0" />
<text x="25.55" y="242.85" font-size="6.2" font-weight="bold" text-anchor="end" fill="#1f1f78" stroke="#1f1f78" font-family='"Liberation Sans", sans-serif' >0.2</text>
<line x1="25.75" y1="224.60" x2="28.75" y2="224.60" stroke="#1f1f78" stroke-width="1.0" />
<text x="25.55" y="226.60" font-size="6.2" font-weight="bold" text-anchor="end" fill="#1f1f78" stroke="#1f1f78" font-family='"Liberation Sans", sans-serif' >0.4</text>
<line x1="25.75" y1="208.35" x2="28.75" y2="208.35" stroke="#1f1f78" stroke-width="1.0" />
<text x="25.55" y="210.35" font-size="6.2" font-weight="bold" text-anchor="end" fill="#1f1f78" stroke="#1f1f78" font-family='"Liberation Sans", sans-serif' >0.6</text>
<line x1="25.75" y1="192.10" x2="28.75" y2="192.10" stroke="#1f1f78" stroke-width="1.0" />
<text x="25.55" y="194.10" font-size="6.2" font-weight="bold" text-anchor="end" fill="#1f1f78" stroke="#1f1f78" font-family='"Liberation Sans", sans-serif' >0.8</text>
<line x1="25.75" y1="175.85" x2="28.75" y2="175.85" stroke="#1f1f78" stroke-width="1.0" />
<text x="25.55" y="177.85" font-size="6.2" font-weight="bold" text-anchor="end" fill="#1f1f78" stroke="#1f1f78" font-family='"Liberation Sans", sans-serif' >1.0</text>
<line x1="28.75" y1="257.10" x2="28.75" y2="259.80" stroke="#1f1f78" stroke-width="1.0" />
<text x="28.75" y="266.10" font-size="6.2" font-weight="bold" text-anchor="middle" fill="#1f1f78" stroke="#1f1f78" font-family='"Liberation Sans", sans-serif' >0</text>
<line x1="66.75" y1="257.10" x2="66.75" y2="259.80" stroke="#1f1f78" stroke-width="1.0" />
<text x="66.75" y="266.10" font-size="6.2" font-weight="bold" text-anchor="middle" fill="#1f1f78" stroke="#1f1f78" font-family='"Liberation Sans", sans-serif' >5</text>
<line x1="104.75" y1="257.10" x2="104.75" y2="259.80" stroke="#1f1f78" stroke-width="1.0" />
<text x="104.75" y="266.10" font-size="6.2" font-weight="bold" text-anchor="middle" fill="#1f1f78" stroke="#1f1f78" font-family='"Liberation Sans", sans-serif' >10</text>
<line x1="142.75" y1="257.10" x2="142.75" y2="259.80" stroke="#1f1f78" stroke-width="1.0" />
<text x="142.75" y="266.10" font-size="6.2" font-weight="bold" text-anchor="middle" fill="#1f1f78" stroke="#1f1f78" font-family='"Liberation Sans", sans-serif' >15</text>
<line x1="180.75" y1="257.10" x2="180.75" y2="259.80" stroke="#1f1f78" stroke-width="1.0" />
<text x="180.75" y="266.10" font-size="6.2" font-weight="bold" text-anchor="middle" fill="#1f1f78" stroke="#1f1f78" font-family='"Liberation Sans", sans-serif' >20</text>
<line x1="218.75" y1="257.10" x2="218.75" y2="259.80" stroke="#1f1f78" stroke-width="1.0" />
<text x="218.75" y="266.10" font-size="6.2" font-weight="bold" text-anchor="middle" fill="#1f1f78" stroke="#1f1f78" font-family='"Liberation Sans", sans-serif' >25</text>
<text x="123.75" y="276.20" font-size="6.5" font-weight="bold" text-anchor="middle" fill="#000" stroke="#000" font-family='"Liberation Sans", sans-serif' >CpG sites</text>
<text x="123.75" y="173.75" font-size="7.8" font-weight="bold" text-anchor="middle" fill="#000" stroke="#000" font-family='"Liberation Sans", sans-serif' >LyP-A</text>
<text transform="translate(7.45,216.48) rotate(-90)" font-size="6.4" font-weight="bold" stroke="#000" text-anchor="middle" font-family='"Liberation Sans", sans-serif'>Methylation Level</text>
<polyline points="43.95,240.04 51.55,227.36 59.15,227.85 66.75,238.66 74.35,238.66 81.95,244.10 89.55,247.35 97.15,248.49 104.75,248.49 112.35,241.66 119.95,228.66 127.55,228.26 173.15,193.73 180.75,193.73 188.35,254.34 195.95,256.04" fill="none" stroke="#621866" stroke-width="1.3" stroke-linejoin="round"/>
<circle cx="43.95" cy="240.04" r="1.2" fill="#3e0844"/>
<circle cx="51.55" cy="227.36" r="1.2" fill="#3e0844"/>
<circle cx="59.15" cy="227.85" r="1.2" fill="#3e0844"/>
<circle cx="66.75" cy="238.66" r="1.2" fill="#3e0844"/>
<circle cx="74.35" cy="238.66" r="1.2" fill="#3e0844"/>
<circle cx="81.95" cy="244.10" r="1.2" fill="#3e0844"/>
<circle cx="89.55" cy="247.35" r="1.2" fill="#3e0844"/>
<circle cx="97.15" cy="248.49" r="1.2" fill="#3e0844"/>
<circle cx="104.75" cy="248.49" r="1.2" fill="#3e0844"/>
<circle cx="112.35" cy="241.66" r="1.2" fill="#3e0844"/>
<circle cx="119.95" cy="228.66" r="1.2" fill="#3e0844"/>
<circle cx="127.55" cy="228.26" r="1.2" fill="#3e0844"/>
<circle cx="173.15" cy="193.73" r="1.2" fill="#3e0844"/>
<circle cx="180.75" cy="193.73" r="1.2" fill="#3e0844"/>
<circle cx="188.35" cy="254.34" r="1.2" fill="#3e0844"/>
<circle cx="195.95" cy="256.04" r="1.2" fill="#3e0844"/>
<line x1="195.60" y1="180.30" x2="205.60" y2="180.30" stroke="#621866" stroke-width="1.3" />
<circle cx="200.60" cy="180.30" r="1.2" fill="#3e0844"/>
<text x="210.00" y="182.50" font-size="6.5" font-weight="bold" text-anchor="start" fill="#1c1c66" stroke="#1c1c66" font-family='"Liberation Sans", sans-serif' >Pt 8</text>
<polyline points="36.35,209.98 43.95,235.16 51.55,221.35 59.15,223.38 66.75,217.29 74.35,217.29 81.95,253.36 89.55,240.28 97.15,240.28 104.75,240.28 112.35,230.69 119.95,242.88 127.55,240.28 135.15,246.54 142.75,246.54 173.15,241.83 180.75,241.83 188.35,247.35 195.95,253.04" fill="none" stroke="#4a7f88" stroke-width="1.3" stroke-linejoin="round"/>
<polygon points="34.25,208.48 38.45,208.48 36.35,211.88" fill="#2f6068"/>
<polygon points="41.85,233.66 46.05,233.66 43.95,237.06" fill="#2f6068"/>
<polygon points="49.45,219.85 53.65,219.85 51.55,223.25" fill="#2f6068"/>
<polygon points="57.05,221.88 61.25,221.88 59.15,225.28" fill="#2f6068"/>
<polygon points="64.65,215.79 68.85,215.79 66.75,219.19" fill="#2f6068"/>
<polygon points="72.25,215.79 76.45,215.79 74.35,219.19" fill="#2f6068"/>
<polygon points="79.85,251.86 84.05,251.86 81.95,255.26" fill="#2f6068"/>
<polygon points="87.45,238.78 91.65,238.78 89.55,242.18" fill="#2f6068"/>
<polygon points="95.05,238.78 99.25,238.78 97.15,242.18" fill="#2f6068"/>
<polygon points="102.65,238.78 106.85,238.78 104.75,242.18" fill="#2f6068"/>
<polygon points="110.25,229.19 114.45,229.19 112.35,232.59" fill="#2f6068"/>
<polygon points="117.85,241.38 122.05,241.38 119.95,244.78" fill="#2f6068"/>
<polygon points="125.45,238.78 129.65,238.78 127.55,242.18" fill="#2f6068"/>
<polygon points="133.05,245.04 137.25,245.04 135.15,248.44" fill="#2f6068"/>
<polygon points="140.65,245.04 144.85,245.04 142.75,248.44" fill="#2f6068"/>
<polygon points="171.05,240.33 175.25,240.33 173.15,243.73" fill="#2f6068"/>
<polygon points="178.65,240.33 182.85,240.33 180.75,243.73" fill="#2f6068"/>
<polygon points="186.25,245.85 190.45,245.85 188.35,249.25" fill="#2f6068"/>
<polygon points="193.85,251.54 198.05,251.54 195.95,254.94" fill="#2f6068"/>
<line x1="195.60" y1="190.00" x2="205.60" y2="190.00" stroke="#4a7f88" stroke-width="1.3" />
<polygon points="198.50,188.50 202.70,188.50 200.60,191.90" fill="#2f6068"/>
<text x="210.00" y="192.20" font-size="6.5" font-weight="bold" text-anchor="start" fill="#1c1c66" stroke="#1c1c66" font-family='"Liberation Sans", sans-serif' >Pt 3</text>
<line x1="284.60" y1="232.62" x2="473.85" y2="232.62" stroke="#aeaabd" stroke-width="1.1" stroke-dasharray="2.2,0.5"/>
<line x1="284.60" y1="175.25" x2="284.60" y2="257.60" stroke="#1f1f78" stroke-width="1.3" />
<line x1="284.00" y1="257.00" x2="474.35" y2="257.00" stroke="#1f1f78" stroke-width="1.3" />
<line x1="281.60" y1="257.00" x2="284.60" y2="257.00" stroke="#1f1f78" stroke-width="1.0" />
<text x="281.40" y="259.00" font-size="6.2" font-weight="bold" text-anchor="end" fill="#1f1f78" stroke="#1f1f78" font-family='"Liberation Sans", sans-serif' >0.0</text>
<line x1="281.60" y1="240.75" x2="284.60" y2="240.75" stroke="#1f1f78" stroke-width="1.0" />
<text x="281.40" y="242.75" font-size="6.2" font-weight="bold" text-anchor="end" fill="#1f1f78" stroke="#1f1f78" font-family='"Liberation Sans", sans-serif' >0.2</text>
<line x1="281.60" y1="224.50" x2="284.60" y2="224.50" stroke="#1f1f78" stroke-width="1.0" />
<text x="281.40" y="226.50" font-size="6.2" font-weight="bold" text-anchor="end" fill="#1f1f78" stroke="#1f1f78" font-family='"Liberation Sans", sans-serif' >0.4</text>
<line x1="281.60" y1="208.25" x2="284.60" y2="208.25" stroke="#1f1f78" stroke-width="1.0" />
<text x="281.40" y="210.25" font-size="6.2" font-weight="bold" text-anchor="end" fill="#1f1f78" stroke="#1f1f78" font-family='"Liberation Sans", sans-serif' >0.6</text>
<line x1="281.60" y1="192.00" x2="284.60" y2="192.00" stroke="#1f1f78" stroke-width="1.0" />
<text x="281.40" y="194.00" font-size="6.2" font-weight="bold" text-anchor="end" fill="#1f1f78" stroke="#1f1f78" font-family='"Liberation Sans", sans-serif' >0.8</text>
<line x1="281.60" y1="175.75" x2="284.60" y2="175.75" stroke="#1f1f78" stroke-width="1.0" />
<text x="281.40" y="177.75" font-size="6.2" font-weight="bold" text-anchor="end" fill="#1f1f78" stroke="#1f1f78" font-family='"Liberation Sans", sans-serif' >1.0</text>
<line x1="284.60" y1="257.00" x2="284.60" y2="259.70" stroke="#1f1f78" stroke-width="1.0" />
<text x="284.60" y="266.00" font-size="6.2" font-weight="bold" text-anchor="middle" fill="#1f1f78" stroke="#1f1f78" font-family='"Liberation Sans", sans-serif' >0</text>
<line x1="322.45" y1="257.00" x2="322.45" y2="259.70" stroke="#1f1f78" stroke-width="1.0" />
<text x="322.45" y="266.00" font-size="6.2" font-weight="bold" text-anchor="middle" fill="#1f1f78" stroke="#1f1f78" font-family='"Liberation Sans", sans-serif' >5</text>
<line x1="360.30" y1="257.00" x2="360.30" y2="259.70" stroke="#1f1f78" stroke-width="1.0" />
<text x="360.30" y="266.00" font-size="6.2" font-weight="bold" text-anchor="middle" fill="#1f1f78" stroke="#1f1f78" font-family='"Liberation Sans", sans-serif' >10</text>
<line x1="398.15" y1="257.00" x2="398.15" y2="259.70" stroke="#1f1f78" stroke-width="1.0" />
<text x="398.15" y="266.00" font-size="6.2" font-weight="bold" text-anchor="middle" fill="#1f1f78" stroke="#1f1f78" font-family='"Liberation Sans", sans-serif' >15</text>
<line x1="436.00" y1="257.00" x2="436.00" y2="259.70" stroke="#1f1f78" stroke-width="1.0" />
<text x="436.00" y="266.00" font-size="6.2" font-weight="bold" text-anchor="middle" fill="#1f1f78" stroke="#1f1f78" font-family='"Liberation Sans", sans-serif' >20</text>
<line x1="473.85" y1="257.00" x2="473.85" y2="259.70" stroke="#1f1f78" stroke-width="1.0" />
<text x="473.85" y="266.00" font-size="6.2" font-weight="bold" text-anchor="middle" fill="#1f1f78" stroke="#1f1f78" font-family='"Liberation Sans", sans-serif' >25</text>
<text x="379.23" y="276.10" font-size="6.5" font-weight="bold" text-anchor="middle" fill="#000" stroke="#000" font-family='"Liberation Sans", sans-serif' >CpG sites</text>
<text x="379.23" y="173.65" font-size="7.8" font-weight="bold" text-anchor="middle" fill="#000" stroke="#000" font-family='"Liberation Sans", sans-serif' >LyP-C and PCALCL</text>
<text transform="translate(263.30,216.38) rotate(-90)" font-size="6.4" font-weight="bold" stroke="#000" text-anchor="middle" font-family='"Liberation Sans", sans-serif'>Methylation Level</text>
<polyline points="292.17,233.03 299.74,231.00 307.31,227.75 314.88,235.88 322.45,250.50 330.02,250.50 337.59,241.56 345.16,243.59 352.73,243.59 360.30,243.59 367.87,245.62 375.44,240.75 383.01,247.49 390.58,236.69 398.15,236.69 428.43,244.00 436.00,242.38 443.57,257.00 451.14,257.00" fill="none" stroke="#621866" stroke-width="1.3" stroke-linejoin="round"/>
<polygon points="290.27,234.43 294.07,234.43 292.17,231.23" fill="#3e0844"/>
<polygon points="297.84,232.40 301.64,232.40 299.74,229.20" fill="#3e0844"/>
<polygon points="305.41,229.15 309.21,229.15 307.31,225.95" fill="#3e0844"/>
<polygon points="312.98,237.28 316.78,237.28 314.88,234.07" fill="#3e0844"/>
<polygon points="320.55,251.90 324.35,251.90 322.45,248.70" fill="#3e0844"/>
<polygon points="328.12,251.90 331.92,251.90 330.02,248.70" fill="#3e0844"/>
<polygon points="335.69,242.96 339.49,242.96 337.59,239.76" fill="#3e0844"/>
<polygon points="343.26,244.99 347.06,244.99 345.16,241.79" fill="#3e0844"/>
<polygon points="350.83,244.99 354.63,244.99 352.73,241.79" fill="#3e0844"/>
<polygon points="358.40,244.99 362.20,244.99 360.30,241.79" fill="#3e0844"/>
<polygon points="365.97,247.03 369.77,247.03 367.87,243.82" fill="#3e0844"/>
<polygon points="373.54,242.15 377.34,242.15 375.44,238.95" fill="#3e0844"/>
<polygon points="381.11,248.89 384.91,248.89 383.01,245.69" fill="#3e0844"/>
<polygon points="388.68,238.09 392.48,238.09 390.58,234.89" fill="#3e0844"/>
<polygon points="396.25,238.09 400.05,238.09 398.15,234.89" fill="#3e0844"/>
<polygon points="426.53,245.40 430.33,245.40 428.43,242.20" fill="#3e0844"/>
<polygon points="434.10,243.78 437.90,243.78 436.00,240.57" fill="#3e0844"/>
<polygon points="441.67,258.40 445.47,258.40 443.57,255.20" fill="#3e0844"/>
<polygon points="449.24,258.40 453.04,258.40 451.14,255.20" fill="#3e0844"/>
<line x1="451.30" y1="180.30" x2="461.30" y2="180.30" stroke="#621866" stroke-width="1.3" />
<polygon points="454.40,181.70 458.20,181.70 456.30,178.50" fill="#3e0844"/>
<text x="465.70" y="182.50" font-size="6.5" font-weight="bold" text-anchor="start" fill="#1c1c66" stroke="#1c1c66" font-family='"Liberation Sans", sans-serif' >Pt 49</text>
<polyline points="292.17,230.59 299.74,250.91 307.31,240.34 314.88,254.16 322.45,244.57 330.02,244.57 337.59,249.36 345.16,238.31 352.73,238.31 360.30,238.31 367.87,245.62 375.44,236.12 383.01,244.00 390.58,231.81 398.15,231.81 428.43,242.38 436.00,242.38 443.57,241.97 451.14,248.88" fill="none" stroke="#4a7f88" stroke-width="1.3" stroke-linejoin="round"/>
<rect x="290.37" y="228.79" width="3.6" height="3.6" fill="#5a929b"/>
<rect x="297.94" y="249.11" width="3.6" height="3.6" fill="#5a929b"/>
<rect x="305.51" y="238.54" width="3.6" height="3.6" fill="#5a929b"/>
<rect x="313.08" y="252.36" width="3.6" height="3.6" fill="#5a929b"/>
<rect x="320.65" y="242.77" width="3.6" height="3.6" fill="#5a929b"/>
<rect x="328.22" y="242.77" width="3.6" height="3.6" fill="#5a929b"/>
<rect x="335.79" y="247.56" width="3.6" height="3.6" fill="#5a929b"/>
<rect x="343.36" y="236.51" width="3.6" height="3.6" fill="#5a929b"/>
<rect x="350.93" y="236.51" width="3.6" height="3.6" fill="#5a929b"/>
<rect x="358.50" y="236.51" width="3.6" height="3.6" fill="#5a929b"/>
<rect x="366.07" y="243.82" width="3.6" height="3.6" fill="#5a929b"/>
<rect x="373.64" y="234.32" width="3.6" height="3.6" fill="#5a929b"/>
<rect x="381.21" y="242.20" width="3.6" height="3.6" fill="#5a929b"/>
<rect x="388.78" y="230.01" width="3.6" height="3.6" fill="#5a929b"/>
<rect x="396.35" y="230.01" width="3.6" height="3.6" fill="#5a929b"/>
<rect x="426.63" y="240.57" width="3.6" height="3.6" fill="#5a929b"/>
<rect x="434.20" y="240.57" width="3.6" height="3.6" fill="#5a929b"/>
<rect x="441.77" y="240.17" width="3.6" height="3.6" fill="#5a929b"/>
<rect x="449.34" y="247.07" width="3.6" height="3.6" fill="#5a929b"/>
<line x1="451.30" y1="190.00" x2="461.30" y2="190.00" stroke="#4a7f88" stroke-width="1.3" />
<rect x="454.50" y="188.20" width="3.6" height="3.6" fill="#5a929b"/>
<text x="465.70" y="192.20" font-size="6.5" font-weight="bold" text-anchor="start" fill="#1c1c66" stroke="#1c1c66" font-family='"Liberation Sans", sans-serif' >Pt 7</text>
<polyline points="292.17,253.75 299.74,249.36 307.31,254.72 314.88,247.09 322.45,255.54 330.02,255.54 337.59,233.44 345.16,252.78 352.73,252.78 360.30,252.78 367.87,250.50 375.44,224.09 383.01,226.69 390.58,238.31 398.15,238.31 428.43,239.94 436.00,239.94 443.57,252.12 451.14,257.00" fill="none" stroke="#1c1c66" stroke-width="1.3" stroke-linejoin="round"/>
<polygon points="290.27,253.75 292.17,251.85 294.07,253.75 292.17,255.65" fill="#10104a"/>
<polygon points="297.84,249.36 299.74,247.46 301.64,249.36 299.74,251.26" fill="#10104a"/>
<polygon points="305.41,254.72 307.31,252.82 309.21,254.72 307.31,256.62" fill="#10104a"/>
<polygon points="312.98,247.09 314.88,245.19 316.78,247.09 314.88,248.99" fill="#10104a"/>
<polygon points="320.55,255.54 322.45,253.64 324.35,255.54 322.45,257.44" fill="#10104a"/>
<polygon points="328.12,255.54 330.02,253.64 331.92,255.54 330.02,257.44" fill="#10104a"/>
<polygon points="335.69,233.44 337.59,231.54 339.49,233.44 337.59,235.34" fill="#10104a"/>
<polygon points="343.26,252.78 345.16,250.88 347.06,252.78 345.16,254.68" fill="#10104a"/>
<polygon points="350.83,252.78 352.73,250.88 354.63,252.78 352.73,254.68" fill="#10104a"/>
<polygon points="358.40,252.78 360.30,250.88 362.20,252.78 360.30,254.68" fill="#10104a"/>
<polygon points="365.97,250.50 367.87,248.60 369.77,250.50 367.87,252.40" fill="#10104a"/>
<polygon points="373.54,224.09 375.44,222.19 377.34,224.09 375.44,225.99" fill="#10104a"/>
<polygon points="381.11,226.69 383.01,224.79 384.91,226.69 383.01,228.59" fill="#10104a"/>
<polygon points="388.68,238.31 390.58,236.41 392.48,238.31 390.58,240.21" fill="#10104a"/>
<polygon points="396.25,238.31 398.15,236.41 400.05,238.31 398.15,240.21" fill="#10104a"/>
<polygon points="426.53,239.94 428.43,238.04 430.33,239.94 428.43,241.84" fill="#10104a"/>
<polygon points="434.10,239.94 436.00,238.04 437.90,239.94 436.00,241.84" fill="#10104a"/>
<polygon points="441.67,252.12 443.57,250.22 445.47,252.12 443.57,254.03" fill="#10104a"/>
<polygon points="449.24,257.00 451.14,255.10 453.04,257.00 451.14,258.90" fill="#10104a"/>
<line x1="451.30" y1="199.70" x2="461.30" y2="199.70" stroke="#1c1c66" stroke-width="1.3" />
<polygon points="454.40,199.70 456.30,197.80 458.20,199.70 456.30,201.60" fill="#10104a"/>
<text x="465.70" y="201.90" font-size="6.5" font-weight="bold" text-anchor="start" fill="#1c1c66" stroke="#1c1c66" font-family='"Liberation Sans", sans-serif' >Pt 2</text>
<line x1="28.60" y1="367.93" x2="218.60" y2="367.93" stroke="#aeaabd" stroke-width="1.1" stroke-dasharray="2.2,0.5"/>
<line x1="28.60" y1="310.55" x2="28.60" y2="392.90" stroke="#1f1f78" stroke-width="1.3" />
<line x1="28.00" y1="392.30" x2="219.10" y2="392.30" stroke="#1f1f78" stroke-width="1.3" />
<line x1="25.60" y1="392.30" x2="28.60" y2="392.30" stroke="#1f1f78" stroke-width="1.0" />
<text x="25.40" y="394.30" font-size="6.2" font-weight="bold" text-anchor="end" fill="#1f1f78" stroke="#1f1f78" font-family='"Liberation Sans", sans-serif' >0.0</text>
<line x1="25.60" y1="376.05" x2="28.60" y2="376.05" stroke="#1f1f78" stroke-width="1.0" />
<text x="25.40" y="378.05" font-size="6.2" font-weight="bold" text-anchor="end" fill="#1f1f78" stroke="#1f1f78" font-family='"Liberation Sans", sans-serif' >0.2</text>
<line x1="25.60" y1="359.80" x2="28.60" y2="359.80" stroke="#1f1f78" stroke-width="1.0" />
<text x="25.40" y="361.80" font-size="6.2" font-weight="bold" text-anchor="end" fill="#1f1f78" stroke="#1f1f78" font-family='"Liberation Sans", sans-serif' >0.4</text>
<line x1="25.60" y1="343.55" x2="28.60" y2="343.55" stroke="#1f1f78" stroke-width="1.0" />
<text x="25.40" y="345.55" font-size="6.2" font-weight="bold" text-anchor="end" fill="#1f1f78" stroke="#1f1f78" font-family='"Liberation Sans", sans-serif' >0.6</text>
<line x1="25.60" y1="327.30" x2="28.60" y2="327.30" stroke="#1f1f78" stroke-width="1.0" />
<text x="25.40" y="329.30" font-size="6.2" font-weight="bold" text-anchor="end" fill="#1f1f78" stroke="#1f1f78" font-family='"Liberation Sans", sans-serif' >0.8</text>
<line x1="25.60" y1="311.05" x2="28.60" y2="311.05" stroke="#1f1f78" stroke-width="1.0" />
<text x="25.40" y="313.05" font-size="6.2" font-weight="bold" text-anchor="end" fill="#1f1f78" stroke="#1f1f78" font-family='"Liberation Sans", sans-serif' >1.0</text>
<line x1="28.60" y1="392.30" x2="28.60" y2="395.00" stroke="#1f1f78" stroke-width="1.0" />
<text x="28.60" y="401.30" font-size="6.2" font-weight="bold" text-anchor="middle" fill="#1f1f78" stroke="#1f1f78" font-family='"Liberation Sans", sans-serif' >0</text>
<line x1="66.60" y1="392.30" x2="66.60" y2="395.00" stroke="#1f1f78" stroke-width="1.0" />
<text x="66.60" y="401.30" font-size="6.2" font-weight="bold" text-anchor="middle" fill="#1f1f78" stroke="#1f1f78" font-family='"Liberation Sans", sans-serif' >5</text>
<line x1="104.60" y1="392.30" x2="104.60" y2="395.00" stroke="#1f1f78" stroke-width="1.0" />
<text x="104.60" y="401.30" font-size="6.2" font-weight="bold" text-anchor="middle" fill="#1f1f78" stroke="#1f1f78" font-family='"Liberation Sans", sans-serif' >10</text>
<line x1="142.60" y1="392.30" x2="142.60" y2="395.00" stroke="#1f1f78" stroke-width="1.0" />
<text x="142.60" y="401.30" font-size="6.2" font-weight="bold" text-anchor="middle" fill="#1f1f78" stroke="#1f1f78" font-family='"Liberation Sans", sans-serif' >15</text>
<line x1="180.60" y1="392.30" x2="180.60" y2="395.00" stroke="#1f1f78" stroke-width="1.0" />
<text x="180.60" y="401.30" font-size="6.2" font-weight="bold" text-anchor="middle" fill="#1f1f78" stroke="#1f1f78" font-family='"Liberation Sans", sans-serif' >20</text>
<line x1="218.60" y1="392.30" x2="218.60" y2="395.00" stroke="#1f1f78" stroke-width="1.0" />
<text x="218.60" y="401.30" font-size="6.2" font-weight="bold" text-anchor="middle" fill="#1f1f78" stroke="#1f1f78" font-family='"Liberation Sans", sans-serif' >25</text>
<text x="123.60" y="411.40" font-size="6.5" font-weight="bold" text-anchor="middle" fill="#000" stroke="#000" font-family='"Liberation Sans", sans-serif' >CpG sites</text>
<text x="123.60" y="308.95" font-size="7.8" font-weight="bold" text-anchor="middle" fill="#000" stroke="#000" font-family='"Liberation Sans", sans-serif' >SATB1 -ve PCALCL</text>
<text transform="translate(7.30,351.68) rotate(-90)" font-size="6.4" font-weight="bold" stroke="#000" text-anchor="middle" font-family='"Liberation Sans", sans-serif'>Methylation Level</text>
<polyline points="36.20,337.05 43.80,357.36 51.40,343.55 59.00,340.71 66.60,343.55 74.20,343.55 81.80,345.66 89.40,326.49 97.00,326.49 104.60,326.49 112.20,339.49 119.80,335.43 127.40,339.49 135.00,325.27 142.60,325.27 173.00,332.99 180.60,332.99 188.20,328.44 195.80,335.43" fill="none" stroke="#621866" stroke-width="1.3" stroke-linejoin="round"/>
<rect x="34.90" y="335.75" width="2.6" height="2.6" fill="#3e0844"/>
<rect x="42.50" y="356.06" width="2.6" height="2.6" fill="#3e0844"/>
<rect x="50.10" y="342.25" width="2.6" height="2.6" fill="#3e0844"/>
<rect x="57.70" y="339.41" width="2.6" height="2.6" fill="#3e0844"/>
<rect x="65.30" y="342.25" width="2.6" height="2.6" fill="#3e0844"/>
<rect x="72.90" y="342.25" width="2.6" height="2.6" fill="#3e0844"/>
<rect x="80.50" y="344.36" width="2.6" height="2.6" fill="#3e0844"/>
<rect x="88.10" y="325.19" width="2.6" height="2.6" fill="#3e0844"/>
<rect x="95.70" y="325.19" width="2.6" height="2.6" fill="#3e0844"/>
<rect x="103.30" y="325.19" width="2.6" height="2.6" fill="#3e0844"/>
<rect x="110.90" y="338.19" width="2.6" height="2.6" fill="#3e0844"/>
<rect x="118.50" y="334.12" width="2.6" height="2.6" fill="#3e0844"/>
<rect x="126.10" y="338.19" width="2.6" height="2.6" fill="#3e0844"/>
<rect x="133.70" y="323.97" width="2.6" height="2.6" fill="#3e0844"/>
<rect x="141.30" y="323.97" width="2.6" height="2.6" fill="#3e0844"/>
<rect x="171.70" y="331.69" width="2.6" height="2.6" fill="#3e0844"/>
<rect x="179.30" y="331.69" width="2.6" height="2.6" fill="#3e0844"/>
<rect x="186.90" y="327.14" width="2.6" height="2.6" fill="#3e0844"/>
<rect x="194.50" y="334.12" width="2.6" height="2.6" fill="#3e0844"/>
<line x1="196.00" y1="315.20" x2="206.00" y2="315.20" stroke="#621866" stroke-width="1.3" />
<rect x="199.70" y="313.90" width="2.6" height="2.6" fill="#3e0844"/>
<text x="210.40" y="317.40" font-size="6.5" font-weight="bold" text-anchor="start" fill="#1c1c66" stroke="#1c1c66" font-family='"Liberation Sans", sans-serif' >Pt 46</text>
<polyline points="36.20,353.30 43.80,323.64 51.40,361.43 59.00,376.46 66.60,377.43 74.20,377.43 81.80,385.48 89.40,339.73 97.00,339.73 104.60,339.73 112.20,376.46 119.80,369.71 127.40,378.81 135.00,369.14 142.60,369.14 173.00,377.51 180.60,377.51 188.20,376.86 195.80,385.31" fill="none" stroke="#4a7f88" stroke-width="1.3" stroke-linejoin="round"/>
<circle cx="36.20" cy="353.30" r="1.2" fill="#2f6068"/>
<circle cx="43.80" cy="323.64" r="1.2" fill="#2f6068"/>
<circle cx="51.40" cy="361.43" r="1.2" fill="#2f6068"/>
<circle cx="59.00" cy="376.46" r="1.2" fill="#2f6068"/>
<circle cx="66.60" cy="377.43" r="1.2" fill="#2f6068"/>
<circle cx="74.20" cy="377.43" r="1.2" fill="#2f6068"/>
<circle cx="81.80" cy="385.48" r="1.2" fill="#2f6068"/>
<circle cx="89.40" cy="339.73" r="1.2" fill="#2f6068"/>
<circle cx="97.00" cy="339.73" r="1.2" fill="#2f6068"/>
<circle cx="104.60" cy="339.73" r="1.2" fill="#2f6068"/>
<circle cx="112.20" cy="376.46" r="1.2" fill="#2f6068"/>
<circle cx="119.80" cy="369.71" r="1.2" fill="#2f6068"/>
<circle cx="127.40" cy="378.81" r="1.2" fill="#2f6068"/>
<circle cx="135.00" cy="369.14" r="1.2" fill="#2f6068"/>
<circle cx="142.60" cy="369.14" r="1.2" fill="#2f6068"/>
<circle cx="173.00" cy="377.51" r="1.2" fill="#2f6068"/>
<circle cx="180.60" cy="377.51" r="1.2" fill="#2f6068"/>
<circle cx="188.20" cy="376.86" r="1.2" fill="#2f6068"/>
<circle cx="195.80" cy="385.31" r="1.2" fill="#2f6068"/>
<line x1="196.00" y1="324.90" x2="206.00" y2="324.90" stroke="#4a7f88" stroke-width="1.3" />
<circle cx="201.00" cy="324.90" r="1.2" fill="#2f6068"/>
<text x="210.40" y="327.10" font-size="6.5" font-weight="bold" text-anchor="start" fill="#1c1c66" stroke="#1c1c66" font-family='"Liberation Sans", sans-serif' >Pt 40</text>
<line x1="284.30" y1="366.87" x2="471.80" y2="366.87" stroke="#aeaabd" stroke-width="1.1" stroke-dasharray="2.2,0.5"/>
<line x1="284.30" y1="310.30" x2="284.30" y2="391.50" stroke="#1f1f78" stroke-width="1.3" />
<line x1="283.70" y1="390.90" x2="472.30" y2="390.90" stroke="#1f1f78" stroke-width="1.3" />
<line x1="281.30" y1="390.90" x2="284.30" y2="390.90" stroke="#1f1f78" stroke-width="1.0" />
<text x="281.10" y="392.90" font-size="6.2" font-weight="bold" text-anchor="end" fill="#1f1f78" stroke="#1f1f78" font-family='"Liberation Sans", sans-serif' >0.0</text>
<line x1="281.30" y1="374.88" x2="284.30" y2="374.88" stroke="#1f1f78" stroke-width="1.0" />
<text x="281.10" y="376.88" font-size="6.2" font-weight="bold" text-anchor="end" fill="#1f1f78" stroke="#1f1f78" font-family='"Liberation Sans", sans-serif' >0.2</text>
<line x1="281.30" y1="358.86" x2="284.30" y2="358.86" stroke="#1f1f78" stroke-width="1.0" />
<text x="281.10" y="360.86" font-size="6.2" font-weight="bold" text-anchor="end" fill="#1f1f78" stroke="#1f1f78" font-family='"Liberation Sans", sans-serif' >0.4</text>
<line x1="281.30" y1="342.84" x2="284.30" y2="342.84" stroke="#1f1f78" stroke-width="1.0" />
<text x="281.10" y="344.84" font-size="6.2" font-weight="bold" text-anchor="end" fill="#1f1f78" stroke="#1f1f78" font-family='"Liberation Sans", sans-serif' >0.6</text>
<line x1="281.30" y1="326.82" x2="284.30" y2="326.82" stroke="#1f1f78" stroke-width="1.0" />
<text x="281.10" y="328.82" font-size="6.2" font-weight="bold" text-anchor="end" fill="#1f1f78" stroke="#1f1f78" font-family='"Liberation Sans", sans-serif' >0.8</text>
<line x1="281.30" y1="310.80" x2="284.30" y2="310.80" stroke="#1f1f78" stroke-width="1.0" />
<text x="281.10" y="312.80" font-size="6.2" font-weight="bold" text-anchor="end" fill="#1f1f78" stroke="#1f1f78" font-family='"Liberation Sans", sans-serif' >1.0</text>
<line x1="284.30" y1="390.90" x2="284.30" y2="393.60" stroke="#1f1f78" stroke-width="1.0" />
<text x="284.30" y="399.90" font-size="6.2" font-weight="bold" text-anchor="middle" fill="#1f1f78" stroke="#1f1f78" font-family='"Liberation Sans", sans-serif' >0</text>
<line x1="321.80" y1="390.90" x2="321.80" y2="393.60" stroke="#1f1f78" stroke-width="1.0" />
<text x="321.80" y="399.90" font-size="6.2" font-weight="bold" text-anchor="middle" fill="#1f1f78" stroke="#1f1f78" font-family='"Liberation Sans", sans-serif' >5</text>
<line x1="359.30" y1="390.90" x2="359.30" y2="393.60" stroke="#1f1f78" stroke-width="1.0" />
<text x="359.30" y="399.90" font-size="6.2" font-weight="bold" text-anchor="middle" fill="#1f1f78" stroke="#1f1f78" font-family='"Liberation Sans", sans-serif' >10</text>
<line x1="396.80" y1="390.90" x2="396.80" y2="393.60" stroke="#1f1f78" stroke-width="1.0" />
<text x="396.80" y="399.90" font-size="6.2" font-weight="bold" text-anchor="middle" fill="#1f1f78" stroke="#1f1f78" font-family='"Liberation Sans", sans-serif' >15</text>
<line x1="434.30" y1="390.90" x2="434.30" y2="393.60" stroke="#1f1f78" stroke-width="1.0" />
<text x="434.30" y="399.90" font-size="6.2" font-weight="bold" text-anchor="middle" fill="#1f1f78" stroke="#1f1f78" font-family='"Liberation Sans", sans-serif' >20</text>
<line x1="471.80" y1="390.90" x2="471.80" y2="393.60" stroke="#1f1f78" stroke-width="1.0" />
<text x="471.80" y="399.90" font-size="6.2" font-weight="bold" text-anchor="middle" fill="#1f1f78" stroke="#1f1f78" font-family='"Liberation Sans", sans-serif' >25</text>
<text x="378.05" y="410.00" font-size="6.5" font-weight="bold" text-anchor="middle" fill="#000" stroke="#000" font-family='"Liberation Sans", sans-serif' >CpG sites</text>
<text x="378.05" y="308.70" font-size="7.8" font-weight="bold" text-anchor="middle" fill="#000" stroke="#000" font-family='"Liberation Sans", sans-serif' >T-MF</text>
<text transform="translate(263.00,350.85) rotate(-90)" font-size="6.4" font-weight="bold" stroke="#000" text-anchor="middle" font-family='"Liberation Sans", sans-serif'>Methylation Level</text>
<polyline points="291.80,368.44 299.30,366.32 306.80,361.12 314.30,370.23 321.80,383.06 329.30,383.06 336.80,374.61 344.30,377.38 351.80,377.38 359.30,377.38 366.80,383.06 374.30,390.90 381.80,379.98 389.30,372.50 396.80,372.50 426.80,344.47 434.30,344.47 441.80,390.90" fill="none" stroke="#621866" stroke-width="1.3" stroke-linejoin="round"/>
<rect x="290.50" y="367.14" width="2.6" height="2.6" fill="#3e0844"/>
<rect x="298.00" y="365.02" width="2.6" height="2.6" fill="#3e0844"/>
<rect x="305.50" y="359.82" width="2.6" height="2.6" fill="#3e0844"/>
<rect x="313.00" y="368.93" width="2.6" height="2.6" fill="#3e0844"/>
<rect x="320.50" y="381.76" width="2.6" height="2.6" fill="#3e0844"/>
<rect x="328.00" y="381.76" width="2.6" height="2.6" fill="#3e0844"/>
<rect x="335.50" y="373.31" width="2.6" height="2.6" fill="#3e0844"/>
<rect x="343.00" y="376.07" width="2.6" height="2.6" fill="#3e0844"/>
<rect x="350.50" y="376.07" width="2.6" height="2.6" fill="#3e0844"/>
<rect x="358.00" y="376.07" width="2.6" height="2.6" fill="#3e0844"/>
<rect x="365.50" y="381.76" width="2.6" height="2.6" fill="#3e0844"/>
<rect x="373.00" y="389.60" width="2.6" height="2.6" fill="#3e0844"/>
<rect x="380.50" y="378.68" width="2.6" height="2.6" fill="#3e0844"/>
<rect x="388.00" y="371.20" width="2.6" height="2.6" fill="#3e0844"/>
<rect x="395.50" y="371.20" width="2.6" height="2.6" fill="#3e0844"/>
<rect x="425.50" y="343.17" width="2.6" height="2.6" fill="#3e0844"/>
<rect x="433.00" y="343.17" width="2.6" height="2.6" fill="#3e0844"/>
<rect x="440.50" y="389.60" width="2.6" height="2.6" fill="#3e0844"/>
<line x1="457.00" y1="313.90" x2="467.00" y2="313.90" stroke="#621866" stroke-width="1.3" />
<rect x="460.70" y="312.60" width="2.6" height="2.6" fill="#3e0844"/>
<text x="471.40" y="316.10" font-size="6.5" font-weight="bold" text-anchor="start" fill="#1c1c66" stroke="#1c1c66" font-family='"Liberation Sans", sans-serif' >Pt 43</text>
<polyline points="291.80,329.84 299.30,346.74 306.80,329.84 314.30,341.30 321.80,387.53 329.30,387.94 336.80,384.04 344.30,382.25 351.80,382.49 359.30,382.49 366.80,380.38 374.30,390.90 381.80,378.68 389.30,384.20 396.80,384.20 426.80,375.75 434.30,376.07 441.80,376.07 449.30,390.90" fill="none" stroke="#4a7f88" stroke-width="1.3" stroke-linejoin="round"/>
<circle cx="291.80" cy="329.84" r="1.2" fill="#2f6068"/>
<circle cx="299.30" cy="346.74" r="1.2" fill="#2f6068"/>
<circle cx="306.80" cy="329.84" r="1.2" fill="#2f6068"/>
<circle cx="314.30" cy="341.30" r="1.2" fill="#2f6068"/>
<circle cx="321.80" cy="387.53" r="1.2" fill="#2f6068"/>
<circle cx="329.30" cy="387.94" r="1.2" fill="#2f6068"/>
<circle cx="336.80" cy="384.04" r="1.2" fill="#2f6068"/>
<circle cx="344.30" cy="382.25" r="1.2" fill="#2f6068"/>
<circle cx="351.80" cy="382.49" r="1.2" fill="#2f6068"/>
<circle cx="359.30" cy="382.49" r="1.2" fill="#2f6068"/>
<circle cx="366.80" cy="380.38" r="1.2" fill="#2f6068"/>
<circle cx="374.30" cy="390.90" r="1.2" fill="#2f6068"/>
<circle cx="381.80" cy="378.68" r="1.2" fill="#2f6068"/>
<circle cx="389.30" cy="384.20" r="1.2" fill="#2f6068"/>
<circle cx="396.80" cy="384.20" r="1.2" fill="#2f6068"/>
<circle cx="426.80" cy="375.75" r="1.2" fill="#2f6068"/>
<circle cx="434.30" cy="376.07" r="1.2" fill="#2f6068"/>
<circle cx="441.80" cy="376.07" r="1.2" fill="#2f6068"/>
<circle cx="449.30" cy="390.90" r="1.2" fill="#2f6068"/>
<line x1="457.00" y1="323.60" x2="467.00" y2="323.60" stroke="#4a7f88" stroke-width="1.3" />
<circle cx="462.00" cy="323.60" r="1.2" fill="#2f6068"/>
<text x="471.40" y="325.80" font-size="6.5" font-weight="bold" text-anchor="start" fill="#1c1c66" stroke="#1c1c66" font-family='"Liberation Sans", sans-serif' >Pt 44</text>
<text x="0.30" y="425.90" font-size="11.2" font-weight="bold" text-anchor="start" fill="#000" stroke="#000" font-family='"Liberation Sans", sans-serif' >D</text>
<line x1="33.60" y1="428.60" x2="33.60" y2="550.20" stroke="#000" stroke-width="1.3" />
<line x1="29.10" y1="546.20" x2="210.20" y2="546.20" stroke="#000" stroke-width="1.3" />
<line x1="29.10" y1="516.95" x2="33.60" y2="516.95" stroke="#000" stroke-width="1.2" />
<line x1="29.10" y1="487.70" x2="33.60" y2="487.70" stroke="#000" stroke-width="1.2" />
<line x1="29.10" y1="458.45" x2="33.60" y2="458.45" stroke="#000" stroke-width="1.2" />
<line x1="29.10" y1="429.20" x2="33.60" y2="429.20" stroke="#000" stroke-width="1.2" />
<text x="28.60" y="549.20" font-size="8.3" font-weight="bold" text-anchor="end" fill="#000" stroke="#000" font-family='"Liberation Sans", sans-serif' >0</text>
<text x="28.60" y="519.95" font-size="8.3" font-weight="bold" text-anchor="end" fill="#000" stroke="#000" font-family='"Liberation Sans", sans-serif' >100</text>
<text x="28.60" y="490.70" font-size="8.3" font-weight="bold" text-anchor="end" fill="#000" stroke="#000" font-family='"Liberation Sans", sans-serif' >200</text>
<text x="28.60" y="461.45" font-size="8.3" font-weight="bold" text-anchor="end" fill="#000" stroke="#000" font-family='"Liberation Sans", sans-serif' >300</text>
<text x="28.60" y="432.20" font-size="8.3" font-weight="bold" text-anchor="end" fill="#000" stroke="#000" font-family='"Liberation Sans", sans-serif' >400</text>
<line x1="33.60" y1="546.20" x2="33.60" y2="550.20" stroke="#000" stroke-width="1.2" />
<text x="33.60" y="558.80" font-size="8.1" font-weight="bold" text-anchor="middle" fill="#000" stroke="#000" font-family='"Liberation Sans", sans-serif' >0.0</text>
<line x1="77.60" y1="546.20" x2="77.60" y2="550.20" stroke="#000" stroke-width="1.2" />
<text x="77.60" y="558.80" font-size="8.1" font-weight="bold" text-anchor="middle" fill="#000" stroke="#000" font-family='"Liberation Sans", sans-serif' >0.1</text>
<line x1="121.60" y1="546.20" x2="121.60" y2="550.20" stroke="#000" stroke-width="1.2" />
<text x="121.60" y="558.80" font-size="8.1" font-weight="bold" text-anchor="middle" fill="#000" stroke="#000" font-family='"Liberation Sans", sans-serif' >0.2</text>
<line x1="165.60" y1="546.20" x2="165.60" y2="550.20" stroke="#000" stroke-width="1.2" />
<text x="165.60" y="558.80" font-size="8.1" font-weight="bold" text-anchor="middle" fill="#000" stroke="#000" font-family='"Liberation Sans", sans-serif' >0.3</text>
<line x1="209.60" y1="546.20" x2="209.60" y2="550.20" stroke="#000" stroke-width="1.2" />
<text x="209.60" y="558.80" font-size="8.1" font-weight="bold" text-anchor="middle" fill="#000" stroke="#000" font-family='"Liberation Sans", sans-serif' >0.4</text>
<text x="121.30" y="573.10" font-size="9.45" font-weight="bold" text-anchor="middle" fill="#000" stroke="#000" font-family='"Liberation Sans", sans-serif' >Average Methylation</text>
<text transform="translate(8.7,487.6) rotate(-90)" font-size="9.6" font-weight="bold" stroke="#000" text-anchor="middle" font-family='"Liberation Sans", sans-serif'>SATB1/GAPDH</text>
<circle cx="91.9" cy="457.7" r="2.75" fill="#000"/>
<circle cx="111.0" cy="463.8" r="2.75" fill="#000"/>
<circle cx="114.4" cy="467.1" r="2.75" fill="#000"/>
<circle cx="150.4" cy="526.6" r="2.75" fill="#000"/>
<circle cx="175.0" cy="529.0" r="2.75" fill="#000"/>
<circle cx="125.4" cy="539.6" r="2.75" fill="#000"/>
<circle cx="131.2" cy="544.8" r="2.75" fill="#000"/>
<text x="84.00" y="448.10" font-size="9.25" font-weight="bold" text-anchor="start" fill="#000" stroke="#000" font-family='"Liberation Sans", sans-serif' >Pt 2</text>
<text x="104.20" y="459.60" font-size="9.25" font-weight="bold" text-anchor="start" fill="#000" stroke="#000" font-family='"Liberation Sans", sans-serif' >Pt 44</text>
<text x="124.00" y="475.80" font-size="9.25" font-weight="bold" text-anchor="start" fill="#000" stroke="#000" font-family='"Liberation Sans", sans-serif' >Pt 7</text>
<text x="144.20" y="517.90" font-size="9.25" font-weight="bold" text-anchor="start" fill="#000" stroke="#000" font-family='"Liberation Sans", sans-serif' >Pt 8</text>
<text x="113.80" y="531.90" font-size="9.25" font-weight="bold" text-anchor="start" fill="#000" stroke="#000" font-family='"Liberation Sans", sans-serif' >Pt 43</text>
<text x="138.50" y="546.20" font-size="9.25" font-weight="bold" text-anchor="start" fill="#000" stroke="#000" font-family='"Liberation Sans", sans-serif' >Pt 50</text>
<text x="181.80" y="542.30" font-size="9.25" font-weight="bold" text-anchor="start" fill="#000" stroke="#000" font-family='"Liberation Sans", sans-serif' >Pt 40</text>
<text x="174.8" y="443.8" font-size="9.4" font-weight="bold" stroke="#000" font-family='"Liberation Sans", sans-serif'><tspan font-style="italic">r</tspan> = -0.71</text>
<text x="175.00" y="454.40" font-size="9.4" font-weight="bold" text-anchor="start" fill="#000" stroke="#000" font-family='"Liberation Sans", sans-serif' >p &lt; 0.05</text>
</svg>
</body></html>
